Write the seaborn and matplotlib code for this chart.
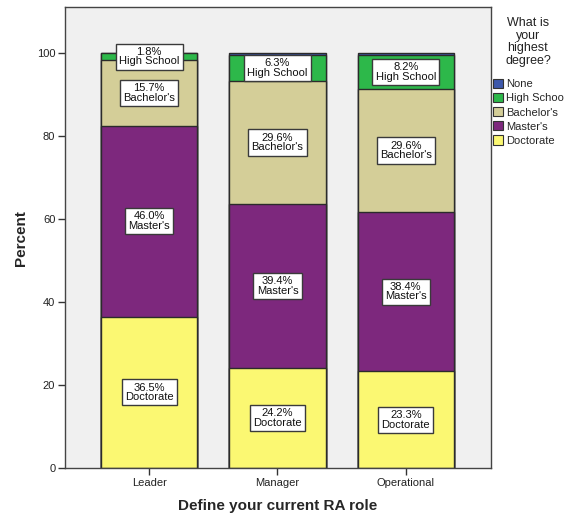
import numpy as np
import pandas as pd
import matplotlib
matplotlib.use("Agg")
import matplotlib.pyplot as plt
import seaborn as sns
from matplotlib.patches import Patch

# datos (porcentaje por rol)
roles = ["Leader", "Manager", "Operational"]
doctorate = [36.5, 24.2, 23.3]
masters = [46.0, 39.4, 38.4]
bachelors = [15.7, 29.6, 29.6]
high_school = [1.8, 6.3, 8.2]
none_pct = [0.0, 0.5, 0.5]

# orden de apilado (de abajo hacia arriba)
niveles = ["Doctorate", "Master's", "Bachelor's", "High School", "None"]
etiquetas_leyenda = ["None", "High Schoo", "Bachelor's", "Master's", "Doctorate"]
colores = {
    "Doctorate": "#FBF872",
    "Master's": "#7D287D",
    "Bachelor's": "#D4CE98",
    "High School": "#2DB84A",
    "None": "#3D58AB",
}

df = pd.DataFrame({
    "role": roles,
    "Doctorate": doctorate,
    "Master's": masters,
    "Bachelor's": bachelors,
    "High School": high_school,
    "None": none_pct,
})

sns.set_style("white")
plt.rcParams["font.family"] = ["Liberation Sans", "DejaVu Sans"]

fig = plt.figure(figsize=(5.65, 5.19), dpi=100)
ax = fig.add_axes([0.115, 0.098, 0.754, 0.888])
ax.set_facecolor("#F0F0F0")

# barras acumuladas: se dibuja de arriba hacia abajo para simular el apilado
acumulado = df[niveles].cumsum(axis=1)
for nivel in reversed(niveles):
    sns.barplot(x=df["role"], y=acumulado[nivel], color=colores[nivel],
                width=0.75, saturation=1, edgecolor="#2b2b2b", linewidth=1.0,
                ax=ax)

# etiquetas dentro de cada segmento
for i in range(len(roles)):
    base = 0.0
    for nivel in niveles:
        v = df.loc[i, nivel]
        if v >= 1.0:
            ax.text(i, base + v / 2, f"{v:.1f}%\n{nivel}", ha="center", va="center",
                    fontsize=8, linespacing=0.95, color="#111111",
                    bbox=dict(boxstyle="square,pad=0.3", fc="white", ec="#3a3a3a", lw=1.0))
        base += v

ax.set_xlim(-0.656, 2.664)
ax.set_ylim(0, 111)
ax.set_yticks([0, 20, 40, 60, 80, 100])
ax.tick_params(axis="both", direction="out", length=5, width=1, colors="#333333",
               labelsize=8, labelcolor="#222222", bottom=True, left=True, pad=2)
ax.set_xlabel("Define your current RA role", fontsize=11, fontweight="bold", labelpad=8)
ax.set_ylabel("Percent", fontsize=11, fontweight="bold", labelpad=6)
for s in ax.spines.values():
    s.set_color("#444444")
    s.set_linewidth(1.0)

# titulo de la leyenda aparte, centrado
fig.text(0.9345, 0.919, "What is\nyour\nhighest\ndegree?", ha="center", va="center",
         fontsize=9, linespacing=1.05, color="#222222")

# leyenda a la derecha
handles = [Patch(facecolor=colores[n], edgecolor="#333333", linewidth=0.8)
           for n in ["None", "High School", "Bachelor's", "Master's", "Doctorate"]]
fig.legend(handles, etiquetas_leyenda, loc="upper left", bbox_to_anchor=(0.8726, 0.848),
           frameon=False, fontsize=8, handlelength=0.9, handleheight=0.9,
           handletextpad=0.3, labelspacing=0.33, borderaxespad=0, borderpad=0)

plt.savefig("out.png", dpi=100)
plt.close()
